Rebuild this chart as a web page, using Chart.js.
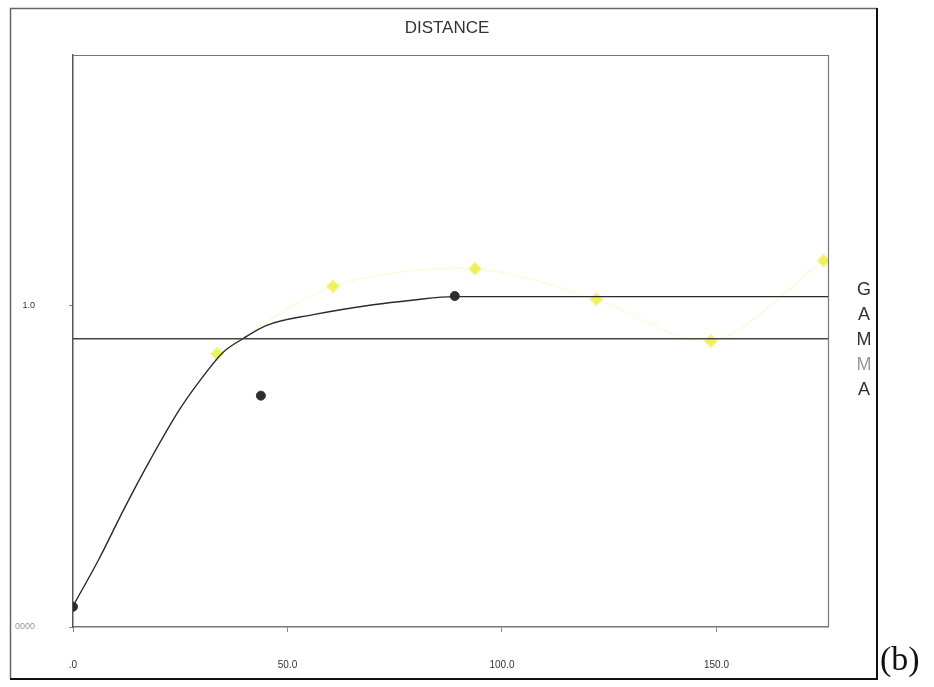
<!DOCTYPE html>
<html>
<head>
<meta charset="utf-8">
<script src="https://cdn.jsdelivr.net/npm/chart.js@4"></script>
<style>
  html, body { margin: 0; padding: 0; background: #fff; }
  #wrap { position: relative; width: 934px; height: 687px; }
</style>
</head>
<body>
<div id="wrap"><canvas id="variogram" width="934" height="687"></canvas></div>
<script>
// experimental semivariance (yellow diamonds)
const expDist = [33.6, 60.6, 93.7, 122.0, 148.7, 175.0];
const expGamma = [0.85, 1.06, 1.115, 1.02, 0.89, 1.14];

// highlighted lag points (black dots)
const lagDist = [0, 43.8, 89.0];
const lagGamma = [0.063, 0.72, 1.03];

// fitted model
const modelDist = [0, 6, 12, 18, 25, 31.5, 35, 39.6, 45, 56, 70, 79, 89, 176];
const modelGamma = [0.065, 0.21, 0.37, 0.52, 0.68, 0.80, 0.855, 0.897, 0.938, 0.972, 1.003, 1.017, 1.028, 1.028];

// sample variance line
const sillDist = [0, 176];
const sillGamma = [0.897, 0.897];

const xTicks = [0, 50, 100, 150];
const yTicks = [0, 1.0];

const pts = (xs, ys) => xs.map((x, i) => ({ x: x, y: ys[i] }));

// frame, title, axis caption and panel letter
const decorations = {
  id: "decorations",
  afterDraw(chart) {
    const { ctx, chartArea: a } = chart;
    ctx.save();
    ctx.strokeStyle = "#777";
    ctx.lineWidth = 1.2;
    ctx.beginPath();
    ctx.moveTo(a.left, a.top + 0.5);
    ctx.lineTo(a.right + 0.5, a.top + 0.5);
    ctx.lineTo(a.right + 0.5, a.bottom);
    ctx.stroke();

    // outer box
    ctx.strokeStyle = "#666";
    ctx.lineWidth = 1.5;
    ctx.beginPath();
    ctx.moveTo(10.5, 679);
    ctx.lineTo(10.5, 8.5);
    ctx.lineTo(877, 8.5);
    ctx.stroke();
    ctx.strokeStyle = "#111";
    ctx.lineWidth = 2;
    ctx.beginPath();
    ctx.moveTo(877, 8);
    ctx.lineTo(877, 679);
    ctx.lineTo(10, 679);
    ctx.stroke();

    ctx.textAlign = "center";
    ctx.textBaseline = "middle";
    ctx.fillStyle = "#333";
    ctx.font = "17px 'Liberation Sans', Arial, sans-serif";
    ctx.fillText("DISTANCE", 447, 28);

    const letters = ["G", "A", "M", "M", "A"];
    ctx.font = "18px 'Liberation Sans', Arial, sans-serif";
    letters.forEach((c, i) => {
      ctx.fillStyle = i === 3 ? "#999" : "#333";
      ctx.fillText(c, 864, 290 + i * 25);
    });

    ctx.fillStyle = "#111";
    ctx.font = "34px 'Liberation Serif', 'Times New Roman', serif";
    ctx.textAlign = "left";
    ctx.textBaseline = "alphabetic";
    ctx.fillText("(b)", 880, 670);
    ctx.restore();
  }
};

new Chart(document.getElementById("variogram"), {
  type: "scatter",
  data: {
    datasets: [
      {
        label: "sill",
        type: "line",
        data: pts(sillDist, sillGamma),
        borderColor: "#444",
        borderWidth: 1.5,
        pointRadius: 0,
        fill: false,
      },
      {
        label: "model",
        type: "line",
        data: pts(modelDist, modelGamma),
        borderColor: "#2a2a2a",
        borderWidth: 1.4,
        pointRadius: 0,
        cubicInterpolationMode: "monotone",
        fill: false,
      },
      {
        label: "experimental",
        data: pts(expDist, expGamma),
        showLine: true,
        borderColor: "rgba(238, 242, 140, 0.3)",
        borderWidth: 1.5,
        tension: 0.3,
        pointStyle: "rectRot",
        pointRadius: 6,
        pointBackgroundColor: "#eef25a",
        pointBorderColor: "rgba(240, 240, 122, 0.6)",
        pointBorderWidth: 2,
      },
      {
        label: "lags",
        data: pts(lagDist, lagGamma),
        pointRadius: 4.5,
        pointBackgroundColor: "#2e2e2e",
        pointBorderColor: "#2e2e2e",
      },
    ],
  },
  options: {
    responsive: false,
    animation: false,
    devicePixelRatio: 1,
    layout: { padding: { left: 10, top: 55, right: 106, bottom: 0 } },
    plugins: {
      legend: { display: false },
      tooltip: { enabled: false },
    },
    scales: {
      x: {
        type: "linear",
        min: 0,
        max: 176,
        afterFit(scale) { scale.height = 60; },
        afterBuildTicks(scale) { scale.ticks = xTicks.map(v => ({ value: v })); },
        ticks: {
          padding: 27,
          color: "#333",
          font: { family: "'Liberation Sans Narrow', 'Liberation Sans', Arial", size: 10 },
          callback: v => (v === 0 ? ".0" : v.toFixed(1)),
        },
        grid: { drawOnChartArea: false, tickLength: 5, color: "#888" },
        border: { color: "#777", width: 1.5 },
      },
      y: {
        type: "linear",
        min: 0,
        max: 1.78,
        afterFit(scale) { scale.width = 63; },
        afterBuildTicks(scale) { scale.ticks = yTicks.map(v => ({ value: v })); },
        ticks: {
          padding: 34,
          color: (c) => (c.tick && c.tick.value === 0 ? "#999" : "#333"),
          font: { family: "'Liberation Sans Narrow', 'Liberation Sans', Arial", size: 9 },
          callback: v => (v === 0 ? "0000" : v.toFixed(1)),
        },
        grid: { drawOnChartArea: false, tickLength: 4, color: "#888" },
        border: { color: "#555", width: 1.5 },
      },
    },
  },
  plugins: [decorations],
});
</script>
</body>
</html>
